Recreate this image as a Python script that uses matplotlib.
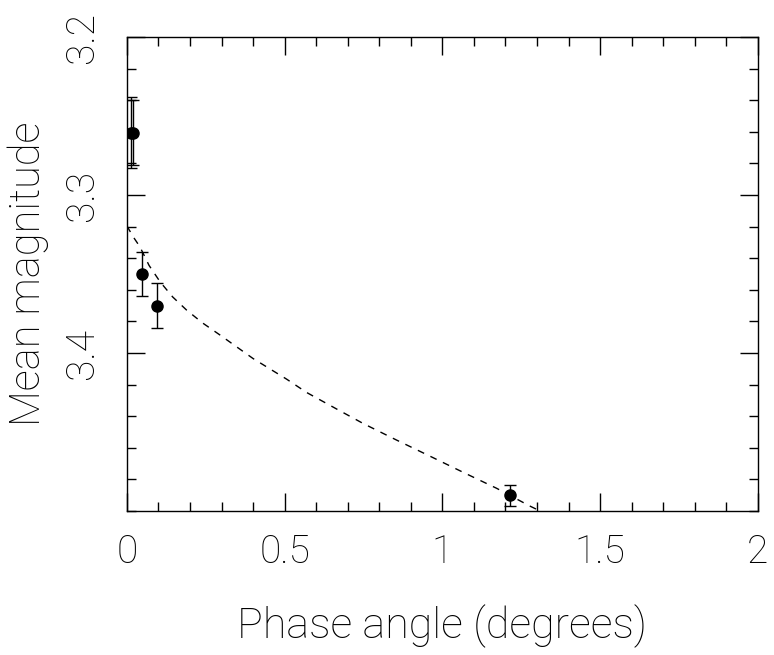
import numpy as np
import matplotlib
matplotlib.use("Agg")
import matplotlib.pyplot as plt
from matplotlib.ticker import MultipleLocator

# measured points (phase angle in degrees, mean magnitude, 1-sigma)
phase = [0.014, 0.018, 0.0475, 0.095, 1.216]
mag = [3.2605, 3.2605, 3.350, 3.370, 3.490]
mag_err = [0.0227, 0.0204, 0.014, 0.014, 0.0065]

# fitted phase curve
fit_phase = [0.0, 0.020, 0.041, 0.070, 0.105, 0.145, 0.189, 0.240, 0.295,
             0.400, 0.506, 0.570, 0.670, 0.749, 0.855, 0.960, 1.066, 1.172,
             1.277, 1.310]
fit_mag = [3.3196, 3.3265, 3.3327, 3.3445, 3.3549, 3.3645, 3.3728, 3.3810,
           3.3886, 3.4035, 3.4165, 3.4250, 3.4360, 3.4446, 3.4551, 3.4652,
           3.4755, 3.4856, 3.4968, 3.5000]

xticks = [0, 0.5, 1, 1.5, 2]
xticklabels = ["0", "0.5", "1", "1.5", "2"]
yticks = [3.2, 3.3, 3.4]
yticklabels = ["3.2", "3.3", "3.4"]

plt.rcParams['font.family'] = ['Roboto', 'DejaVu Sans']
plt.rcParams['font.weight'] = 'light'
plt.rcParams['axes.labelweight'] = 'light'

fig = plt.figure(figsize=(7.74, 6.55), dpi=100)
ax = fig.add_axes([0.164, 0.2198, 0.815, 0.7237])

ax.plot(fit_phase, fit_mag, color='black', lw=1.0, dashes=(5, 5))
ax.errorbar(phase, mag, yerr=mag_err, fmt='o', color='black', ms=8,
            elinewidth=1.0, capsize=4, capthick=1.0)

ax.set_xlim(0, 2)
ax.set_ylim(3.5, 3.2)

ax.set_xticks(xticks)
ax.set_xticklabels(xticklabels)
ax.set_yticks(yticks)
ax.set_yticklabels(yticklabels, rotation=90, va='center')
ax.xaxis.set_minor_locator(MultipleLocator(0.1))
ax.yaxis.set_minor_locator(MultipleLocator(0.02))

ax.tick_params(which='both', direction='in', top=True, right=True,
               width=1.0, labelsize=28, colors='black')
ax.tick_params(which='major', length=13)
ax.tick_params(which='minor', length=6.5)
ax.tick_params(axis='x', pad=16)
ax.tick_params(axis='y', pad=19)

for s in ax.spines.values():
    s.set_linewidth(1.0)

ax.set_xlabel("Phase angle (degrees)", fontsize=31, labelpad=24)
ax.set_ylabel("Mean magnitude", fontsize=30, labelpad=10)

fig.savefig("out.png", dpi=100)
